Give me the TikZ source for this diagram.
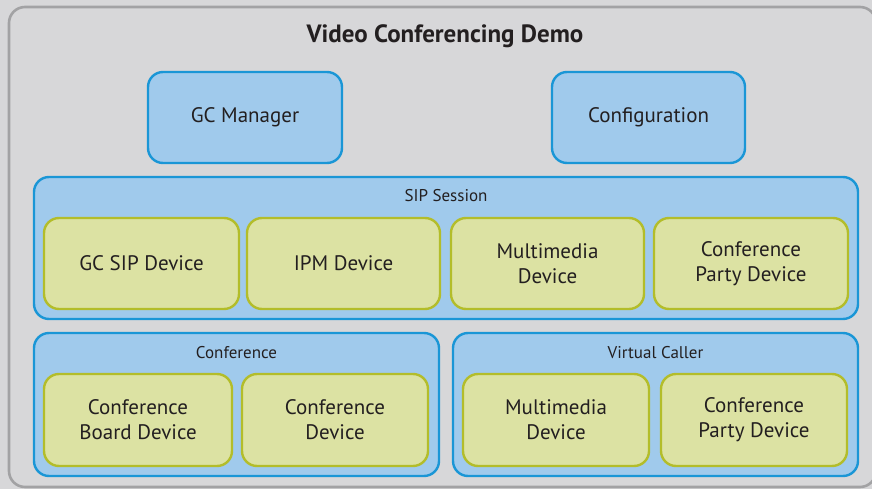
\documentclass[tikz,border=0pt]{standalone}
\usepackage{fontspec}
\setmainfont{PT Sans}
\definecolor{panelgray}{HTML}{D7D7D9}
\definecolor{paneledge}{HTML}{A2A2A4}
\definecolor{bluefill}{HTML}{A0CAEC}
\definecolor{blueedge}{HTML}{1A96D6}
\definecolor{greenfill}{HTML}{DCE2A3}
\definecolor{greenedge}{HTML}{B3BD2A}
\definecolor{inktext}{HTML}{231F20}
\tikzset{
  every node/.style={text=inktext, font=\fontsize{21}{25}\selectfont},
  bluebox/.style={draw=blueedge, fill=bluefill, line width=2.4pt, rounded corners=15pt, inner sep=0pt},
  greenbox/.style={draw=greenedge, fill=greenfill, line width=2.4pt, rounded corners=15pt, inner sep=0pt, align=center},
  grouplabel/.style={font=\fontsize{17}{20}\selectfont, inner sep=0pt},
}
\begin{document}
\begin{tikzpicture}[x=1pt, y=-1pt]
\useasboundingbox (0,0) rectangle (872,489);
% outer panel
\draw[panelgray, fill=panelgray] (0,0) rectangle (872,489);
\draw[draw=paneledge, fill=panelgray, line width=2.6pt, rounded corners=16pt] (9,7) rectangle (876,487);
\node[font=\bfseries\fontsize{25}{28}\selectfont, inner sep=0pt] (title) at (445,36) {Video Conferencing Demo};

% top-level components
\node[bluebox, minimum width=194pt, minimum height=91pt] (mgr) at (245,117.5) {GC Manager};
\node[bluebox, minimum width=193pt, minimum height=91pt] (cfg) at (648.5,117.5) {Configuration};

% SIP session group
\node[bluebox, minimum width=824pt, minimum height=142pt] (sip) at (446,248) {};
\node[grouplabel] (siplbl) at (446,196) {SIP Session};
\node[greenbox, minimum width=195pt, minimum height=91pt] (gcsip) at (141.5,263.5) {GC SIP Device};
\node[greenbox, minimum width=193pt, minimum height=91pt] (ipm) at (343.5,263.5) {IPM Device};
\node[greenbox, minimum width=193pt, minimum height=91pt] (mm1) at (547.5,263.5) {Multimedia\\Device};
\node[greenbox, minimum width=194pt, minimum height=91pt] (cpd1) at (751,263.5) {Conference\\Party Device};

% conference group
\node[bluebox, minimum width=405pt, minimum height=143pt] (conf) at (236.5,404.5) {};
\node[grouplabel] (conflbl) at (236.5,353) {Conference};
\node[greenbox, minimum width=188pt, minimum height=92pt] (board) at (138,420) {Conference\\Board Device};
\node[greenbox, minimum width=186pt, minimum height=92pt] (cdev) at (335,420) {Conference\\Device};

% virtual caller group
\node[bluebox, minimum width=405pt, minimum height=143pt] (vc) at (655.5,404.5) {};
\node[grouplabel] (vclbl) at (655.5,353) {Virtual Caller};
\node[greenbox, minimum width=186pt, minimum height=92pt] (mm2) at (556,420) {Multimedia\\Device};
\node[greenbox, minimum width=186pt, minimum height=92pt] (cpd2) at (754,420) {Conference\\Party Device};
\end{tikzpicture}
\end{document}
